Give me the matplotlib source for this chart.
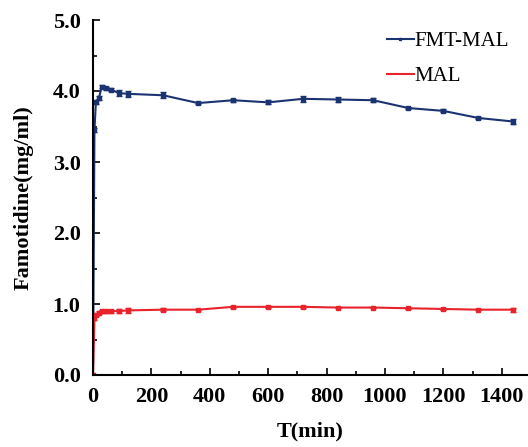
import matplotlib
matplotlib.use("Agg")
import matplotlib.pyplot as plt
from matplotlib.lines import Line2D

plt.rcParams['font.family'] = ['Liberation Serif', 'DejaVu Serif']

t = [0, 5, 10, 20, 30, 45, 60, 90, 120, 240, 360, 480, 600, 720, 840, 960, 1080, 1200, 1320, 1440]
fmt_mal = [0.0, 3.45, 3.85, 3.90, 4.06, 4.04, 4.02, 3.97, 3.96, 3.94, 3.83, 3.87, 3.84, 3.89, 3.88, 3.87, 3.76, 3.72, 3.62, 3.57]
fmt_err = [0.0, 0.03, 0.03, 0.03, 0.02, 0.02, 0.02, 0.04, 0.04, 0.04, 0.02, 0.02, 0.03, 0.04, 0.03, 0.03, 0.02, 0.02, 0.01, 0.03]
mal = [0.0, 0.80, 0.85, 0.88, 0.90, 0.90, 0.90, 0.90, 0.91, 0.92, 0.92, 0.96, 0.96, 0.96, 0.95, 0.95, 0.94, 0.93, 0.92, 0.92]
mal_err = [0.0, 0.02, 0.02, 0.02, 0.02, 0.02, 0.02, 0.03, 0.03, 0.02, 0.01, 0.01, 0.01, 0.01, 0.01, 0.01, 0.01, 0.01, 0.01, 0.03]

blue = '#1c3372'
red = '#e8232b'

fig = plt.figure(figsize=(5.28, 4.47), dpi=100)
ax = fig.add_axes([93/528, 72/447, 435/528, 355/447])

ax.errorbar(t, fmt_mal, yerr=fmt_err, color=blue, lw=1.5, marker='s', ms=2.5,
            capsize=2, elinewidth=1)
ax.errorbar(t, mal, yerr=mal_err, color=red, lw=1.5, marker='s', ms=2.5,
            capsize=2, elinewidth=1)

ax.set_xlim(0, 1490)
ax.set_ylim(0, 5.0)
ax.set_xticks(range(0, 1401, 200))
ax.set_xticks(range(100, 1500, 200), minor=True)
ax.set_yticks([0.0, 1.0, 2.0, 3.0, 4.0, 5.0])
ax.set_yticks([0.5, 1.5, 2.5, 3.5, 4.5], minor=True)
ax.set_yticklabels(['0.0', '1.0', '2.0', '3.0', '4.0', '5.0'])
ax.tick_params(direction='in', length=5, width=1.2, labelsize=16)
ax.tick_params(axis='x', pad=9)
ax.tick_params(axis='y', pad=9)
ax.tick_params(which='minor', direction='in', length=3, width=1.2)
for lab in ax.get_xticklabels() + ax.get_yticklabels():
    lab.set_fontweight('bold')

ax.spines['top'].set_visible(False)
ax.spines['right'].set_visible(False)
ax.spines['left'].set_linewidth(1.5)
ax.spines['bottom'].set_linewidth(1.5)

ax.set_xlabel('T(min)', fontsize=16, fontweight='bold', labelpad=10)
ax.set_ylabel('Famotidine(mg/ml)', fontsize=16, fontweight='bold', labelpad=14)

handles = [Line2D([], [], color=blue, lw=1.5, marker='s', ms=2),
           Line2D([], [], color=red, lw=1.5)]
ax.legend(handles, ['FMT-MAL', 'MAL'], loc='upper right', bbox_to_anchor=(1.0, 1.02),
          frameon=False, fontsize=15, handlelength=1.3, handletextpad=0.05, labelspacing=0.75)

fig.savefig('out.png', dpi=100)
